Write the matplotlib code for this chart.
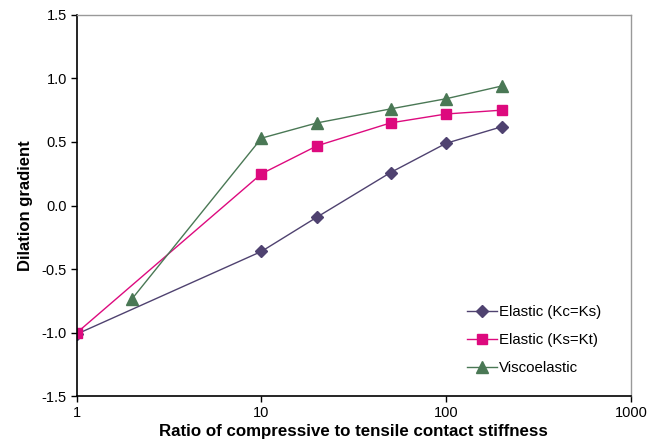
import matplotlib
matplotlib.use("Agg")
import matplotlib.pyplot as plt
from matplotlib.ticker import FixedLocator, FixedFormatter, NullLocator

plt.rcParams['font.family'] = ['Liberation Sans', 'DejaVu Sans']

# data
x_elastic = [1, 10, 20, 50, 100, 200]
y_kc_ks = [-1.01, -0.36, -0.09, 0.26, 0.49, 0.62]
y_ks_kt = [-1.0, 0.25, 0.47, 0.65, 0.72, 0.75]
x_visco = [2, 10, 20, 50, 100, 200]
y_visco = [-0.73, 0.53, 0.65, 0.76, 0.84, 0.94]

x_ticks = [1, 10, 100, 1000]
x_ticklabels = ['1', '10', '100', '1000']
y_ticks = [-1.5, -1.0, -0.5, 0.0, 0.5, 1.0, 1.5]

fig = plt.figure(figsize=(6.67, 4.46), dpi=100)
ax = fig.add_axes([0.115, 0.111, 0.831, 0.856])

ax.plot(x_elastic, y_kc_ks, color='#4F4270', marker='D', markersize=6,
        linewidth=1, label='Elastic (Kc=Ks)')
ax.plot(x_elastic, y_ks_kt, color='#DD0A7E', marker='s', markersize=7,
        linewidth=1, label='Elastic (Ks=Kt)')
ax.plot(x_visco, y_visco, color='#4A7855', marker='^', markersize=8,
        linewidth=1, label='Viscoelastic')

ax.set_xscale('log')
ax.set_xlim(1, 1000)
ax.set_ylim(-1.5, 1.5)
ax.xaxis.set_major_locator(FixedLocator(x_ticks))
ax.xaxis.set_major_formatter(FixedFormatter(x_ticklabels))
ax.xaxis.set_minor_locator(NullLocator())
ax.set_yticks(y_ticks)
ax.set_yticklabels(['%.1f' % v for v in y_ticks])
ax.tick_params(direction='out', length=4, width=1, labelsize=10.5,
               colors='black', pad=3)

for s in ['top', 'right']:
    ax.spines[s].set_color('#999999')
    ax.spines[s].set_linewidth(1)
for s in ['left', 'bottom']:
    ax.spines[s].set_linewidth(1.2)

ax.set_xlabel('Ratio of compressive to tensile contact stiffness',
              fontsize=12.2, fontweight='bold', labelpad=3)
ax.set_ylabel('Dilation gradient', fontsize=12, fontweight='bold', labelpad=6)

ax.legend(loc='lower right', bbox_to_anchor=(0.971, 0.02), frameon=False,
          fontsize=10.8, handlelength=2.0, handletextpad=0.15,
          labelspacing=0.95)

fig.savefig('out.png', dpi=100)
